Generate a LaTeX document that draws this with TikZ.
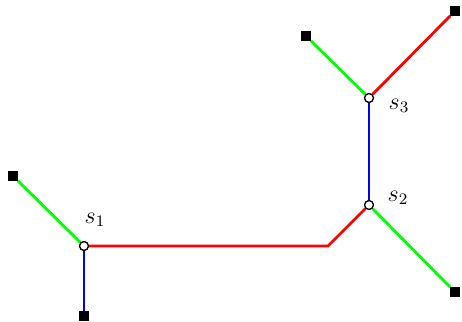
\documentclass[tikz,border=0pt]{standalone}
\usepackage{amsmath}
\usetikzlibrary{positioning}

\begin{document}
\begin{tikzpicture}[
        x=0.5pt, y=-0.5pt,
        leaf/.style={draw, rectangle, fill=black, minimum size=4.5pt, inner sep=0pt},
        steiner/.style={draw, circle, fill=white, line width=0.6pt, minimum size=4.4pt, inner sep=0pt},
        edge/.style={line width=1.4pt},
        lbl/.style={font=\large, inner sep=1pt}
    ]
        \useasboundingbox (0,0) rectangle (462,322);

        \node[leaf] (t1) at (13,176)  {};
        \node[leaf] (t2) at (84,316)  {};
        \node[leaf] (t3) at (306,36)  {};
        \node[leaf] (t4) at (455,11)  {};
        \node[leaf] (t5) at (455,292) {};
        \coordinate (bend) at (328,246);

        \node[steiner] (s1) at (84,246)  {};
        \node[steiner] (s2) at (369,205) {};
        \node[steiner] (s3) at (369,98)  {};

        \draw[edge, green] (t1) -- (s1);
        \draw[edge, blue]  (s1) -- (t2);
        \draw[edge, red]   (s1) -- (bend) -- (s2);
        \draw[edge, blue]  (s2) -- (s3);
        \draw[edge, green] (s2) -- (t5);
        \draw[edge, green] (t3) -- (s3);
        \draw[edge, red]   (s3) -- (t4);

        % redraw vertices on top
        \node[steiner] at (s1) {};
        \node[steiner] at (s2) {};
        \node[steiner] at (s3) {};

        \node[lbl] (l1) at (95,220)  {$s_1$};
        \node[lbl] (l2) at (398,198) {$s_2$};
        \node[lbl] (l3) at (399,106) {$s_3$};
    \end{tikzpicture}
\end{document}
